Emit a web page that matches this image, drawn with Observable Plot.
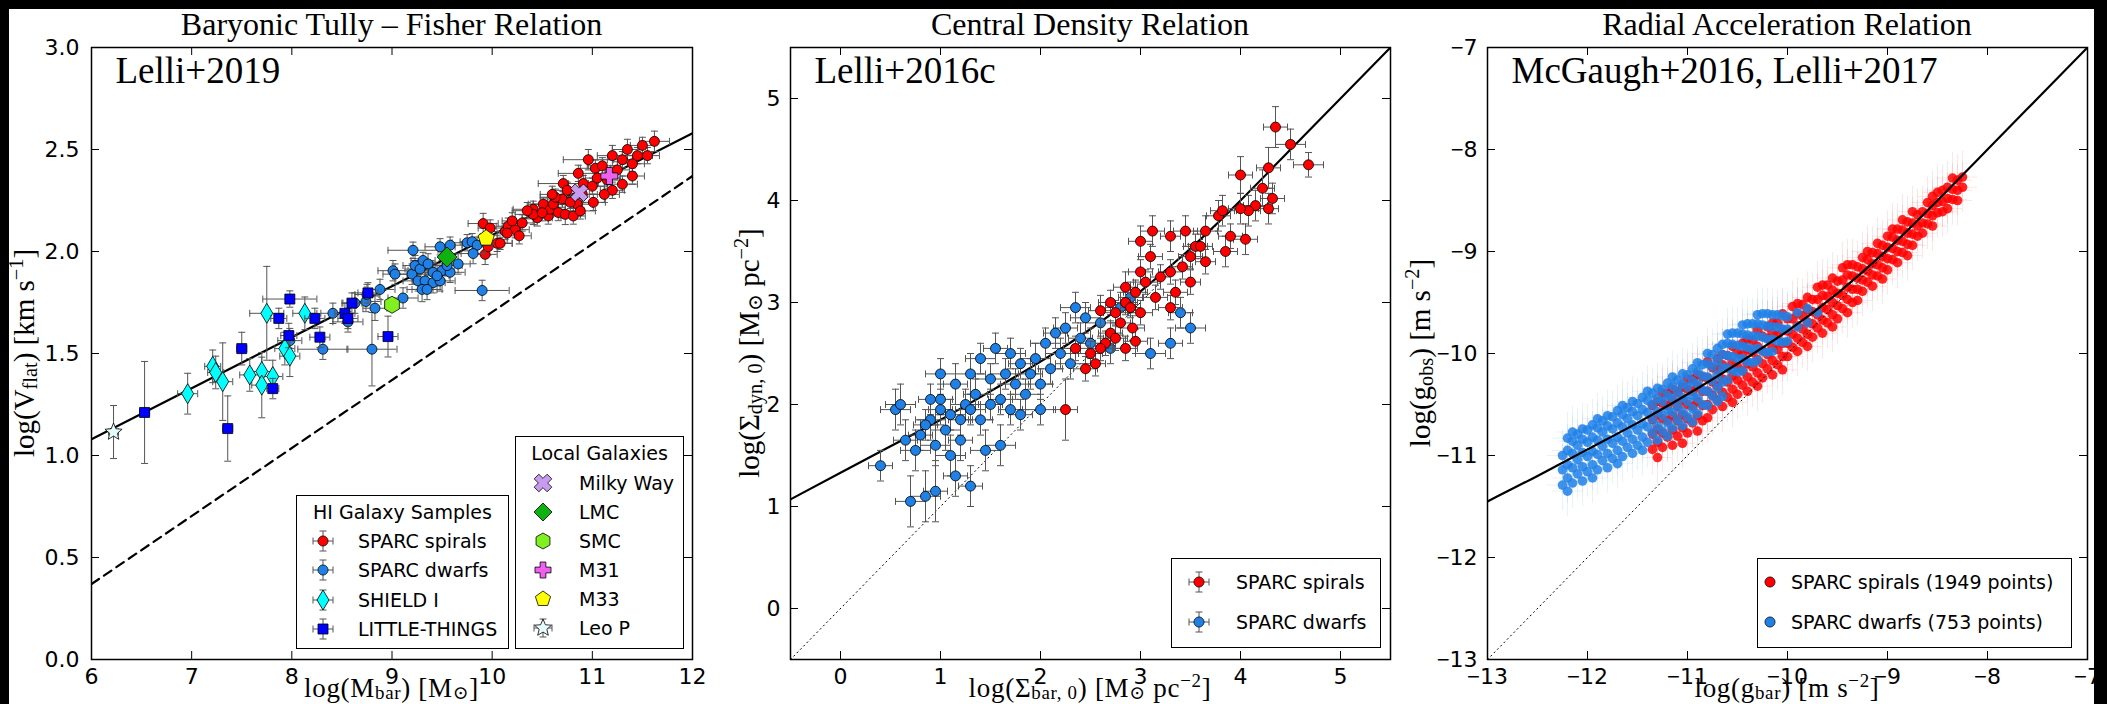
<!DOCTYPE html>
<html><head><meta charset="utf-8">
<script src="https://cdn.jsdelivr.net/npm/d3@7"></script>
<script src="https://cdn.jsdelivr.net/npm/@observablehq/plot@0.6"></script>
<style>
html,body{margin:0;padding:0;background:#000;}
#root{position:relative;width:2107px;height:704px;background:#000;overflow:hidden;}
#paper{position:absolute;left:9px;top:9px;width:2085px;height:695px;background:#fff;}
.t{position:absolute;white-space:nowrap;line-height:1;color:#000;}
.serif{font-family:"Liberation Serif","DejaVu Serif",serif;}
.sans{font-family:"DejaVu Sans",sans-serif;}
.t sub{font-size:0.7em;vertical-align:-0.15em;line-height:0;}
.t sup{font-size:0.7em;vertical-align:0.5em;line-height:0;}
.box{position:absolute;border:1.5px solid #000;background:#fff;box-sizing:border-box;}
</style></head><body><div id="root"><div id="paper"></div></div>
<script>
// ---------------- DATA ----------------
// Panel 1: Baryonic Tully-Fisher relation  [logMbar, logVflat, errX, errY]
const btfrSpirals = [
 [9.91,2.137,0.15,0.05],[9.98,2.115,0.12,0.04],[9.93,1.986,0.12,0.05],[9.96,2.023,0.10,0.04],[10.05,2.04,0.15,0.04],
 [10.08,2.04,0.12,0.03],[10.13,2.098,0.15,0.04],[10.16,2.124,0.12,0.04],[10.23,2.107,0.14,0.04],[10.27,2.077,0.12,0.04],
 [10.15,2.09,0.10,0.05],[10.41,2.207,0.20,0.04],[10.45,2.165,0.15,0.04],[10.41,2.182,0.18,0.05],[10.51,2.232,0.15,0.03],
 [10.56,2.174,0.12,0.04],[10.58,2.207,0.15,0.04],[10.61,2.232,0.20,0.03],[10.66,2.191,0.12,0.04],[10.70,2.257,0.15,0.04],
 [10.71,2.333,0.25,0.04],[10.73,2.182,0.15,0.05],[10.81,2.174,0.12,0.04],[10.85,2.232,0.15,0.04],[10.86,2.383,0.20,0.04],
 [10.91,2.333,0.15,0.04],[10.96,2.45,0.25,0.05],[11.01,2.241,0.12,0.04],[11.03,2.408,0.15,0.04],[10.88,2.199,0.15,0.04],
 [10.78,2.241,0.12,0.03],[10.63,2.266,0.15,0.04],[10.30,2.14,0.12,0.04],[10.35,2.20,0.15,0.04],[10.20,2.15,0.10,0.04],
 [10.50,2.19,0.15,0.04],[10.60,2.28,0.12,0.04],[10.90,2.28,0.15,0.04],[10.75,2.30,0.15,0.04],[11.00,2.32,0.12,0.04],
 [11.10,2.42,0.15,0.04],[11.15,2.35,0.12,0.04],[11.20,2.47,0.15,0.05],[11.25,2.40,0.12,0.04],[11.30,2.45,0.15,0.04],
 [11.35,2.50,0.15,0.05],[11.40,2.43,0.12,0.04],[11.45,2.47,0.15,0.04],[11.50,2.52,0.12,0.04],[11.55,2.47,0.12,0.04],
 [11.30,2.33,0.15,0.04],[11.20,2.30,0.12,0.04],[11.12,2.28,0.15,0.04],[11.05,2.36,0.12,0.04],[11.62,2.54,0.15,0.05],
 [11.40,2.37,0.12,0.04]
];
const btfrDwarfs = [
 [7.98,1.563,0.12,0.06],[8.31,1.521,0.25,0.05],[8.80,1.521,0.25,0.18],[8.41,1.697,0.12,0.05],[8.56,1.655,0.15,0.05],
 [8.63,1.747,0.12,0.05],[8.74,1.755,0.15,0.05],[8.83,1.722,0.12,0.06],[8.88,1.814,0.15,0.05],[8.75,1.789,0.12,0.05],
 [9.11,1.772,0.15,0.05],[9.01,1.906,0.15,0.05],[9.03,1.889,0.12,0.05],[9.21,2.006,0.25,0.04],[9.20,1.889,0.15,0.05],
 [9.23,1.931,0.12,0.05],[9.28,1.914,0.15,0.05],[9.31,1.956,0.12,0.04],[9.36,1.939,0.15,0.05],[9.41,1.898,0.12,0.05],
 [9.26,1.856,0.15,0.05],[9.33,1.856,0.12,0.05],[9.30,1.814,0.15,0.06],[9.41,1.847,0.12,0.05],[9.48,1.856,0.15,0.05],
 [9.50,1.906,0.12,0.05],[9.48,2.023,0.15,0.04],[9.58,2.031,0.12,0.04],[9.58,1.898,0.15,0.05],[9.66,1.939,0.12,0.05],
 [9.75,2.043,0.15,0.04],[9.80,2.048,0.12,0.04],[9.85,2.031,0.15,0.04],[9.81,1.990,0.12,0.05],[9.90,1.809,0.27,0.05],
 [9.35,1.814,0.15,0.05],[9.45,1.881,0.12,0.05],[9.55,1.931,0.15,0.05]
];
const btfrShield = [
 [6.96,1.303,0.10,0.10],[7.21,1.437,0.08,0.08],[7.24,1.407,0.08,0.08],[7.31,1.362,0.10,0.19],[7.58,1.395,0.10,0.08],
 [7.70,1.412,0.10,0.07],[7.81,1.387,0.10,0.08],[7.70,1.345,0.10,0.16],[7.75,1.697,0.17,0.23],[8.13,1.697,0.12,0.08],
 [7.93,1.524,0.10,0.08],[7.98,1.487,0.10,0.10]
];
const btfrLittleThings = [
 [6.53,1.211,0.05,0.25],[7.36,1.132,0.05,0.16],[7.50,1.524,0.05,0.08],[7.98,1.767,0.27,0.04],[7.87,1.672,0.08,0.05],
 [8.23,1.672,0.10,0.05],[7.97,1.588,0.08,0.06],[8.28,1.580,0.10,0.05],[7.81,1.328,0.06,0.05],[8.96,1.583,0.10,0.10],
 [8.76,1.797,0.10,0.05],[8.60,1.747,0.10,0.05],[8.53,1.697,0.10,0.05],[8.56,1.672,0.10,0.05]
];
const localNames = ["Milky Way","LMC","SMC","M31","M33","Leo P"];
const localX     = [10.87, 9.55, 9.00, 11.17, 9.94, 6.22];
const localY     = [2.288, 1.973, 1.739, 2.37, 2.065, 1.115];
const localErrX  = [0, 0, 0, 0, 0, 0.05];
const localErrY  = [0, 0, 0, 0, 0, 0.13];
const btfrModelX = [6, 12], btfrModelY = [1.08, 2.58];     // solid line
const btfrDashX  = [6, 12], btfrDashY  = [0.37, 2.37];     // dashed line

// Panel 2: Central density relation  [logSigmaBar, logSigmaDyn, errX, errY]
const cdrSpirals = [
 [4.35,4.72,0.12,0.20],[4.50,4.55,0.15,0.15],[4.68,4.35,0.15,0.12],[4.28,4.32,0.12,0.20],[4.22,4.12,0.12,0.18],
 [4.15,3.95,0.12,0.15],[4.28,3.92,0.10,0.15],[4.08,3.90,0.12,0.15],[4.32,4.02,0.12,0.15],[3.78,3.85,0.12,0.15],
 [3.65,3.70,0.12,0.15],[3.90,3.65,0.12,0.12],[3.55,3.55,0.12,0.12],[3.65,3.40,0.10,0.12],[3.50,3.45,0.12,0.12],
 [3.42,3.35,0.10,0.12],[3.30,3.30,0.12,0.12],[3.12,3.70,0.12,0.15],[3.30,3.65,0.10,0.15],[3.00,3.60,0.12,0.15],
 [3.10,3.45,0.12,0.12],[3.20,3.25,0.10,0.12],[3.05,3.20,0.12,0.12],[2.95,3.10,0.12,0.12],[2.85,3.00,0.12,0.12],
 [2.90,2.95,0.10,0.10],[3.00,2.90,0.12,0.12],[2.75,2.90,0.12,0.12],[2.80,2.80,0.10,0.12],[2.92,2.75,0.12,0.12],
 [2.70,2.70,0.12,0.12],[2.65,2.60,0.10,0.12],[2.60,2.55,0.12,0.12],[2.50,2.50,0.12,0.12],[2.55,2.40,0.10,0.12],
 [2.75,2.65,0.12,0.12],[2.85,3.15,0.12,0.15],[2.45,2.35,0.12,0.12],[2.35,2.55,0.12,0.12],[2.25,1.95,0.12,0.30],
 [2.60,2.92,0.12,0.15],[3.15,3.05,0.12,0.12],[2.95,2.62,0.12,0.12],[3.50,3.20,0.10,0.12],[3.60,3.55,0.12,0.12],
 [3.35,3.10,0.12,0.12],[4.00,3.92,0.12,0.15],[4.05,3.62,0.12,0.15],[3.85,3.50,0.12,0.15],[2.70,3.00,0.12,0.12],
 [3.00,3.30,0.12,0.12],[2.85,2.55,0.12,0.12],[3.30,2.95,0.12,0.12],[3.45,3.70,0.12,0.15],[4.00,4.25,0.12,0.18],
 [3.82,3.90,0.12,0.15]
];
const cdrDwarfs = [
 [0.40,1.40,0.12,0.15],[0.70,1.05,0.15,0.25],[0.85,1.10,0.15,0.25],[0.95,1.15,0.12,0.30],[0.55,1.95,0.15,0.20],
 [0.65,1.65,0.12,0.20],[0.75,1.55,0.15,0.20],[0.80,1.70,0.12,0.15],[0.90,1.85,0.15,0.20],[0.85,1.80,0.12,0.15],
 [0.95,1.60,0.15,0.20],[1.00,1.95,0.12,0.15],[1.05,1.75,0.15,0.20],[1.00,2.05,0.12,0.15],[1.10,1.90,0.15,0.15],
 [1.15,2.20,0.12,0.20],[1.10,1.50,0.15,0.20],[1.20,1.85,0.12,0.15],[1.25,2.00,0.15,0.15],[1.20,1.65,0.12,0.20],
 [1.30,1.95,0.15,0.15],[1.35,2.10,0.12,0.15],[1.30,2.30,0.15,0.20],[1.40,1.85,0.12,0.15],[1.45,1.55,0.15,0.20],
 [1.50,2.00,0.12,0.15],[1.50,2.25,0.15,0.15],[1.60,2.05,0.12,0.15],[1.65,2.30,0.15,0.15],[1.70,1.95,0.12,0.15],
 [1.75,2.20,0.15,0.15],[1.80,2.40,0.12,0.15],[1.85,2.10,0.15,0.15],[1.90,2.30,0.12,0.15],[1.95,2.45,0.15,0.15],
 [2.00,2.20,0.12,0.15],[2.05,2.60,0.15,0.15],[2.10,2.35,0.12,0.15],[2.20,2.50,0.15,0.15],[2.25,2.75,0.12,0.15],
 [2.30,2.40,0.15,0.15],[2.40,2.65,0.12,0.15],[2.45,2.85,0.15,0.15],[2.50,2.60,0.12,0.15],[2.60,2.80,0.15,0.15],
 [2.70,2.55,0.12,0.15],[2.80,2.95,0.15,0.15],[2.90,3.05,0.12,0.15],[3.10,2.50,0.15,0.15],[3.30,2.60,0.12,0.15],
 [3.50,2.75,0.15,0.15],[3.40,2.90,0.12,0.15],[1.40,2.45,0.15,0.15],[1.55,2.55,0.12,0.15],[1.00,2.30,0.15,0.15],
 [0.90,2.05,0.12,0.15],[1.60,1.60,0.15,0.20],[1.80,1.90,0.12,0.15],[2.00,1.95,0.15,0.15],[1.15,1.30,0.12,0.20],
 [0.60,2.00,0.15,0.20],[1.30,1.20,0.12,0.20],[1.70,2.50,0.15,0.15],[2.15,2.70,0.12,0.15],[2.35,2.95,0.15,0.15]
];
const cdrModelX = [-0.5, 0, 0.5, 1, 1.5, 2, 2.5, 3, 3.5, 4, 4.5, 5, 5.5];
const cdrModelY = [1.07, 1.33, 1.59, 1.85, 2.13, 2.42, 2.74, 3.11, 3.53, 4.00, 4.50, 5.00, 5.50];
const cdrUnityX = [-0.5, 5.5], cdrUnityY = [-0.5, 5.5];

// Panel 3: Radial acceleration relation. Each row: [log gbar, log gobs values read in that column...]
const rarSpiralCols = [
 [-11.35,-10.94,-10.79,-10.65,-10.51],[-11.30,-11.02,-10.87,-10.74,-10.6,-10.47],[-11.25,-10.92,-10.78,-10.64,-10.49,-10.39],
 [-11.20,-10.82,-10.66,-10.51,-10.39],[-11.15,-10.9,-10.75,-10.61,-10.46,-10.35],[-11.10,-10.81,-10.66,-10.52,-10.38],
 [-11.05,-10.88,-10.73,-10.6,-10.46,-10.33],[-11.00,-10.78,-10.64,-10.5,-10.35,-10.25],[-10.95,-10.68,-10.52,-10.37,-10.25],
 [-10.90,-10.76,-10.61,-10.47,-10.32,-10.21],[-10.85,-10.66,-10.51,-10.37,-10.23],
 [-10.80,-10.63,-10.5,-10.37,-10.24,-10.08],[-10.75,-10.55,-10.41,-10.28,-10.14],[-10.70,-10.46,-10.32,-10.16,-10.05],
 [-10.65,-10.52,-10.38,-10.25,-10.11,-10.01],[-10.60,-10.43,-10.28,-10.14,-10.02],[-10.55,-10.48,-10.35,-10.22,-10.09,-9.93],
 [-10.50,-10.4,-10.26,-10.13,-9.99],[-10.45,-10.31,-10.17,-10.01,-9.9],[-10.40,-10.37,-10.23,-10.1,-9.96,-9.86],
 [-10.35,-10.28,-10.13,-9.99,-9.87],[-10.30,-10.32,-10.19,-10.06,-9.93,-9.77],[-10.25,-10.24,-10.1,-9.97,-9.83],
 [-10.20,-10.15,-10.01,-9.85,-9.74],[-10.15,-10.21,-10.07,-9.94,-9.8,-9.7],[-10.10,-10.11,-9.96,-9.82,-9.7],
 [-10.05,-10.16,-10.03,-9.9,-9.77,-9.61],
 [-10.00,-10.03,-9.9,-9.78,-9.66],[-9.95,-9.94,-9.81,-9.66,-9.54],[-9.90,-9.98,-9.85,-9.73,-9.61,-9.51],
 [-9.85,-9.89,-9.76,-9.63,-9.52],[-9.80,-9.93,-9.81,-9.69,-9.57,-9.45],[-9.75,-9.84,-9.71,-9.59,-9.47],
 [-9.70,-9.75,-9.62,-9.47,-9.35],[-9.65,-9.8,-9.67,-9.55,-9.43,-9.33],[-9.60,-9.7,-9.57,-9.44,-9.33],
 [-9.55,-9.74,-9.62,-9.5,-9.38,-9.26],[-9.50,-9.66,-9.53,-9.41,-9.29],[-9.45,-9.56,-9.43,-9.28,-9.16],
 [-9.40,-9.6,-9.47,-9.35,-9.23,-9.13],[-9.35,-9.5,-9.37,-9.24,-9.13],
 [-9.30,-9.48,-9.37,-9.26,-9.15],[-9.25,-9.39,-9.28,-9.17,-9.06],[-9.20,-9.3,-9.19,-9.08,-9.0],
 [-9.15,-9.34,-9.23,-9.12,-9.01],[-9.10,-9.24,-9.13,-9.02,-8.92],[-9.05,-9.27,-9.16,-9.05,-8.94],
 [-9.00,-9.18,-9.07,-8.96,-8.85],[-8.95,-9.08,-8.97,-8.86,-8.78],[-8.90,-9.11,-9.0,-8.89,-8.78],
 [-8.85,-9.01,-8.9,-8.79,-8.69],[-8.80,-9.04,-8.93,-8.82,-8.71],[-8.75,-8.94,-8.83,-8.72,-8.61],
 [-8.70,-8.85,-8.75,-8.64],[-8.65,-8.82,-8.72,-8.61],[-8.60,-8.73,-8.63,-8.52],[-8.55,-8.75,-8.65,-8.55,-8.46],
 [-8.50,-8.62,-8.52,-8.42],[-8.45,-8.61,-8.51,-8.4],[-8.40,-8.58,-8.48,-8.37],[-8.35,-8.49,-8.39,-8.28],
 [-8.30,-8.5,-8.4,-8.3],[-8.25,-8.37,-8.27]
];
const rarDwarfCols = [
 [-12.25,-11.29,-11.14,-11.0],[-12.20,-11.35,-11.22,-11.09,-10.95,-10.83],[-12.15,-11.27,-11.12,-10.98,-10.86,-10.77],
 [-12.10,-11.18,-11.04,-10.9,-10.79],[-12.05,-11.25,-11.11,-10.97,-10.84,-10.74],[-12.00,-11.16,-11.01,-10.87,-10.75],
 [-11.95,-11.22,-11.09,-10.96,-10.82,-10.7],[-11.90,-11.14,-10.99,-10.85,-10.73,-10.64],[-11.85,-11.05,-10.91,-10.77,-10.66],
 [-11.80,-11.12,-10.98,-10.84,-10.71,-10.61],[-11.75,-11.03,-10.88,-10.74,-10.62],[-11.70,-11.08,-10.95,-10.82,-10.68,-10.56],
 [-11.65,-11.01,-10.86,-10.72,-10.6,-10.51],[-11.60,-10.92,-10.78,-10.64,-10.53],[-11.55,-10.98,-10.84,-10.7,-10.57,-10.47],
 [-11.50,-10.9,-10.75,-10.61,-10.49],[-11.45,-10.95,-10.82,-10.69,-10.55,-10.43],[-11.40,-10.87,-10.72,-10.58,-10.46,-10.37],
 [-11.35,-10.78,-10.64,-10.5,-10.39],[-11.30,-10.85,-10.71,-10.57,-10.44,-10.34],[-11.25,-10.76,-10.61,-10.47,-10.35],
 [-11.20,-10.81,-10.68,-10.55,-10.41,-10.29],[-11.15,-10.73,-10.58,-10.44,-10.32,-10.23],[-11.10,-10.65,-10.51,-10.37,-10.26],
 [-11.05,-10.71,-10.57,-10.43,-10.3,-10.2],[-11.00,-10.62,-10.47,-10.33,-10.21],[-10.95,-10.67,-10.54,-10.41,-10.27,-10.15],
 [-10.90,-10.59,-10.44,-10.3,-10.18,-10.09],[-10.85,-10.5,-10.36,-10.22,-10.11],
 [-10.80,-10.51,-10.37,-10.23,-10.1,-10.0],[-10.75,-10.42,-10.27,-10.13,-10.01],[-10.70,-10.47,-10.34,-10.21,-10.07,-9.95],
 [-10.65,-10.42,-10.28,-10.14,-10.01,-9.91],
 [-10.60,-10.26,-10.14,-10.02,-9.9,-9.81],[-10.55,-10.17,-10.03,-9.91,-9.8],[-10.50,-10.18,-10.05,-9.92,-9.8],
 [-10.45,-10.17,-10.05,-9.93,-9.81,-9.72],[-10.40,-10.08,-9.94,-9.82,-9.71],[-10.35,-10.09,-9.96,-9.83,-9.71],
 [-10.30,-10.07,-9.95,-9.83,-9.71,-9.62],[-10.25,-9.98,-9.84,-9.72,-9.61],[-10.20,-9.99,-9.86,-9.73,-9.61],
 [-10.15,-9.98,-9.86,-9.74,-9.62],[-10.10,-9.88,-9.74,-9.62],[-10.05,-9.89,-9.76,-9.63],[-10.00,-9.88,-9.76,-9.64],
 [-9.90,-9.74,-9.6],[-9.80,-9.7,-9.56],[-9.70,-9.6]
];
const rarTypicalErr = {x: 0.15, y: 0.25};
const rarModelX = [-13, -12.5, -12, -11.5, -11, -10.5, -10, -9.5, -9, -8.5, -8, -7.5, -7];
const rarModelY = [-11.45, -11.20, -10.94, -10.68, -10.40, -10.10, -9.78, -9.41, -8.98, -8.50, -8.00, -7.50, -7.00];
const rarUnityX = [-13, -7], rarUnityY = [-13, -7];

// tick values
const p1XTicks = [6,7,8,9,10,11,12], p1YTicks = [0,0.5,1,1.5,2,2.5,3];
const p2XTicks = [0,1,2,3,4,5], p2YTicks = [0,1,2,3,4,5];
const p3XTicks = [-13,-12,-11,-10,-9,-8,-7], p3YTicks = [-13,-12,-11,-10,-9,-8,-7];

// ---------------- STYLE / HELPERS ----------------
const C = {red:"#ff0000", blue:"#1f80e6", cyan:"#00ffff", lt:"#0000ff", mw:"#c89bf0", lmc:"#10b010",
           smc:"#80f020", m31:"#f060f0", m33:"#ffff00", leo:"#e6fcfc", err:"#555555"};
const H = 704, FT = 47, FB = 659;
const root = document.getElementById("root");
const NS = "http://www.w3.org/2000/svg";

function poly(pts){return {draw(ctx,size){const r=Math.sqrt(size/Math.PI);pts.forEach(([x,y],i)=>i?ctx.lineTo(x*r,y*r):ctx.moveTo(x*r,y*r));ctx.closePath();}};}
const aP = 0.36;
const PLUS = [[-aP,-1],[aP,-1],[aP,-aP],[1,-aP],[1,aP],[aP,aP],[aP,1],[-aP,1],[-aP,aP],[-1,aP],[-1,-aP],[-aP,-aP]];
const SHAPES = {
  square: [[-1,-1],[1,-1],[1,1],[-1,1]],
  diamond: [[0,-1],[1,0],[0,1],[-1,0]],
  thin: [[0,-1],[0.6,0],[0,1],[-0.6,0]],
  plus: PLUS,
  x: PLUS.map(([x,y])=>[(x-y)*0.72,(x+y)*0.72]),
  hex: d3.range(6).map(k=>[Math.cos(-Math.PI/2+k*Math.PI/3),Math.sin(-Math.PI/2+k*Math.PI/3)]),
  pent: d3.range(5).map(k=>[Math.cos(-Math.PI/2+k*2*Math.PI/5),Math.sin(-Math.PI/2+k*2*Math.PI/5)]),
  star: d3.range(10).map(k=>{const rr=k%2?0.45:1,t=-Math.PI/2+k*Math.PI/5;return [rr*Math.cos(t),rr*Math.sin(t)];}),
  circle: d3.range(40).map(k=>[Math.cos(k*Math.PI/20),Math.sin(k*Math.PI/20)])
};
const SYM = Object.fromEntries(Object.entries(SHAPES).map(([k,v])=>[k,poly(v)]));
const capV = {draw(ctx,size){const r=Math.sqrt(size/Math.PI);ctx.moveTo(0,-r);ctx.lineTo(0,r);}};
const capH = {draw(ctx,size){const r=Math.sqrt(size/Math.PI);ctx.moveTo(-r,0);ctx.lineTo(r,0);}};

function errorBars(rows, color, cap, width, opacity){
  const o = {stroke: color, strokeWidth: width, strokeOpacity: opacity};
  const hx = rows.filter(d=>d[2]>0), vy = rows.filter(d=>d[3]>0);
  const m = [
    Plot.ruleY(hx, {y:d=>d[1], x1:d=>d[0]-d[2], x2:d=>d[0]+d[2], ...o}),
    Plot.ruleX(vy, {x:d=>d[0], y1:d=>d[1]-d[3], y2:d=>d[1]+d[3], ...o})
  ];
  if (cap) m.push(
    Plot.dot(hx, {x:d=>d[0]-d[2], y:d=>d[1], symbol:capV, r:cap, fill:"none", ...o}),
    Plot.dot(hx, {x:d=>d[0]+d[2], y:d=>d[1], symbol:capV, r:cap, fill:"none", ...o}),
    Plot.dot(vy, {x:d=>d[0], y:d=>d[1]-d[3], symbol:capH, r:cap, fill:"none", ...o}),
    Plot.dot(vy, {x:d=>d[0], y:d=>d[1]+d[3], symbol:capH, r:cap, fill:"none", ...o})
  );
  return m;
}
function markers(rows, symbol, r, fill){
  return Plot.dot(rows, {x:d=>d[0], y:d=>d[1], symbol, r, fill, stroke:"#000", strokeWidth:0.8});
}

function panel({L, Wd, ml, mr, xd, yd, xt, yt, yfmt, ypad, note, marks}){
  const fh = FB-FT, fw = Wd-ml-mr;
  const svg = Plot.plot({
    width: Wd, height: H, marginLeft: ml, marginRight: mr, marginTop: FT, marginBottom: H-FB,
    x: {domain: xd}, y: {domain: yd},
    style: {background:"transparent", overflow:"visible", fontFamily:"DejaVu Sans, sans-serif", fontSize:"22px", color:"#000"},
    marks: [
      ...marks,
      Plot.text([note], {frameAnchor:"top-left", dx:24, dy:9, text:d=>d, textAnchor:"start", lineAnchor:"top",
        fontSize:37, fontFamily:"Liberation Serif, serif", fill:"#000"}),
      Plot.ruleX(xt, {insetTop: fh-8, stroke:"#000"}),
      Plot.ruleX(xt, {insetBottom: fh-8, stroke:"#000"}),
      Plot.ruleY(yt, {insetRight: fw-8, stroke:"#000"}),
      Plot.ruleY(yt, {insetLeft: fw-8, stroke:"#000"}),
      Plot.axisX(xt, {label:null, tickSize:0, tickPadding:9, fontSize:22, fill:"#000"}),
      Plot.axisY(yt, {label:null, tickSize:0, tickPadding:ypad, fontSize:22, fill:"#000", tickFormat: yfmt}),
      Plot.frame({stroke:"#000", strokeWidth:1.5})
    ]
  });
  // narrower minus sign like the reference's tick labels
  svg.querySelectorAll('g[aria-label$="tick label"] text').forEach(t=>{
    const s = t.textContent;
    if (s.startsWith("\u2212")){
      t.textContent = "";
      const a = document.createElementNS(NS,"tspan"); a.setAttribute("font-family","Liberation Sans, sans-serif"); a.textContent = "\u2212";
      const b = document.createElementNS(NS,"tspan"); b.textContent = s.slice(1);
      t.append(a,b);
    }
  });
  svg.style.position = "absolute"; svg.style.left = L+"px"; svg.style.top = "0px";
  root.appendChild(svg);
}

const lineXY = (xs, ys) => xs.map((x,i)=>({x, y: ys[i]}));

// ---------------- PANEL 1 ----------------
const leoRows = [[localX[5], localY[5], localErrX[5], localErrY[5]]];
const locRow = i => [[localX[i], localY[i]]];
panel({L:0, Wd:700, ml:91, mr:8, xd:[6,12], yd:[0,3], xt:p1XTicks, yt:p1YTicks, yfmt:d3.format(".1f"), ypad:12, note:"Lelli+2019",
  marks: [
    Plot.line(lineXY(btfrModelX, btfrModelY), {x:"x", y:"y", stroke:"#000", strokeWidth:2.2, clip:true}),
    Plot.line(lineXY(btfrDashX, btfrDashY), {x:"x", y:"y", stroke:"#000", strokeWidth:2.2, strokeDasharray:"9,6", clip:true}),
    ...errorBars(btfrSpirals, C.err, 3.5, 1, 1), markers(btfrSpirals, "circle", 5, C.red),
    ...errorBars(btfrDwarfs, C.err, 3.5, 1, 1), markers(btfrDwarfs, "circle", 5, C.blue),
    ...errorBars(btfrShield, C.err, 3.5, 1, 1), markers(btfrShield, SYM.thin, 10, C.cyan),
    ...errorBars(btfrLittleThings, C.err, 3.5, 1, 1), markers(btfrLittleThings, SYM.square, 5, C.lt),
    markers(locRow(0), SYM.x, 9, C.mw),
    markers(locRow(1), SYM.diamond, 10, C.lmc),
    markers(locRow(2), SYM.hex, 8.5, C.smc),
    markers(locRow(3), SYM.plus, 8.5, C.m31),
    markers(locRow(4), SYM.pent, 8.5, C.m33),
    ...errorBars(leoRows, C.err, 3.5, 1, 1), markers(leoRows, SYM.star, 9, C.leo)
  ]});

// ---------------- PANEL 2 ----------------
panel({L:700, Wd:700, ml:90, mr:10, xd:[-0.5,5.5], yd:[-0.5,5.5], xt:p2XTicks, yt:p2YTicks, yfmt:d3.format("d"), ypad:10, note:"Lelli+2016c",
  marks: [
    Plot.line(lineXY(cdrUnityX, cdrUnityY), {x:"x", y:"y", stroke:"#000", strokeWidth:1, strokeDasharray:"1.2,3.5", clip:true}),
    Plot.line(lineXY(cdrModelX, cdrModelY), {x:"x", y:"y", stroke:"#000", strokeWidth:2.2, curve:"natural", clip:true}),
    ...errorBars(cdrDwarfs, C.err, 3.5, 1, 1), markers(cdrDwarfs, "circle", 5, C.blue),
    ...errorBars(cdrSpirals, C.err, 3.5, 1, 1), markers(cdrSpirals, "circle", 5, C.red)
  ]});

// ---------------- PANEL 3 ----------------
const colsToPoints = cols => cols.flatMap(([x, ...ys]) => ys.map(y => [x, y]));
const rarSpirals = colsToPoints(rarSpiralCols), rarDwarfs = colsToPoints(rarDwarfCols);
const withErr = rows => rows.map(([x,y])=>[x, y, rarTypicalErr.x, rarTypicalErr.y]);
panel({L:1400, Wd:707, ml:87, mr:20, xd:[-13,-7], yd:[-13,-7], xt:p3XTicks, yt:p3YTicks, yfmt:d3.format("d"), ypad:10, note:"McGaugh+2016, Lelli+2017",
  marks: [
    ...errorBars(withErr(rarSpirals), C.red, 0, 1, 0.1),
    ...errorBars(withErr(rarDwarfs), C.blue, 0, 1, 0.1),
    Plot.dot(rarSpirals, {x:d=>d[0], y:d=>d[1], r:4.8, fill:C.red, fillOpacity:0.85}),
    Plot.dot(rarDwarfs, {x:d=>d[0], y:d=>d[1], r:4.8, fill:C.blue, fillOpacity:0.85}),
    Plot.line(lineXY(rarUnityX, rarUnityY), {x:"x", y:"y", stroke:"#000", strokeWidth:1, strokeDasharray:"1.2,3.5", clip:true}),
    Plot.line(lineXY(rarModelX, rarModelY), {x:"x", y:"y", stroke:"#000", strokeWidth:2.2, curve:"natural", clip:true})
  ]});

// ---------------- TEXT ----------------
function txt(html, cls, x, y, size, extra=""){
  const d = document.createElement("div");
  d.className = "t "+cls; d.innerHTML = html;
  d.style.cssText += `left:${x}px;top:${y}px;font-size:${size}px;transform:translate(-50%,-50%) ${extra};`;
  root.appendChild(d); return d;
}
txt("Baryonic Tully – Fisher Relation", "serif", 391.5, 24, 32);
txt("Central Density Relation", "serif", 1090, 24, 32);
txt("Radial Acceleration Relation", "serif", 1787, 24, 32);
const xl = [
  txt("log(M<sub>bar</sub>) [M<sub>⊙</sub>]", "serif", 391.5, 687.5, 27),
  txt("log(Σ<sub>bar, 0</sub>) [M<sub>⊙</sub> pc<sup>−2</sup>]", "serif", 1090, 687.5, 27),
  txt("log(g<sub>bar</sub>) [m s<sup>−2</sup>]", "serif", 1787, 687.5, 27)
];
xl.forEach(d=>{d.style.letterSpacing="0.7px";});
txt("log(V<sub>flat</sub>) [km s<sup>−1</sup>]", "serif", 24, 353, 29, "rotate(-90deg)");
txt("log(Σ<sub>dyn, 0</sub>) [M<sub>⊙</sub> pc<sup>−2</sup>]", "serif", 749, 353, 29, "rotate(-90deg)");
txt("log(g<sub>obs</sub>) [m s<sup>−2</sup>]", "serif", 1420, 353, 29, "rotate(-90deg)");

// ---------------- LEGENDS ----------------
function pathOf(shape, r){return SHAPES[shape].map(([x,y],i)=>(i?"L":"M")+(x*r).toFixed(2)+","+(y*r).toFixed(2)).join("")+"Z";}
function legendMarker(cx, cy, shape, r, fill, err){
  const s = 32;
  let inner = "";
  if (err){
    const e = err;
    inner += `<g stroke="${C.err}" stroke-width="1" fill="none">
      <line x1="${-e}" y1="0" x2="${e}" y2="0"/><line x1="0" y1="${-e}" x2="0" y2="${e}"/>
      <line x1="${-e}" y1="-3.5" x2="${-e}" y2="3.5"/><line x1="${e}" y1="-3.5" x2="${e}" y2="3.5"/>
      <line x1="-3.5" y1="${-e}" x2="3.5" y2="${-e}"/><line x1="-3.5" y1="${e}" x2="3.5" y2="${e}"/></g>`;
  }
  inner += `<path d="${pathOf(shape, r)}" fill="${fill}" stroke="#000" stroke-width="0.8"/>`;
  const d = document.createElement("div");
  d.style.cssText = `position:absolute;left:${cx-s/2}px;top:${cy-s/2}px;width:${s}px;height:${s}px;`;
  d.innerHTML = `<svg width="${s}" height="${s}" viewBox="${-s/2} ${-s/2} ${s} ${s}" style="overflow:visible">${inner}</svg>`;
  root.appendChild(d);
}
function legendText(label, x, y){
  const d = document.createElement("div");
  d.className = "t sans"; d.textContent = label;
  d.style.cssText += `left:${x}px;top:${y}px;font-size:19px;transform:translateY(-50%);`;
  root.appendChild(d);
}
function box(l,t,r,b){const d=document.createElement("div");d.className="box";
  d.style.cssText+=`left:${l}px;top:${t}px;width:${r-l}px;height:${b-t}px;`;root.appendChild(d);}

// Panel 1 legends
const hiLabels = ["SPARC spirals","SPARC dwarfs","SHIELD I","LITTLE-THINGS"];
const hiShapes = [["circle",5,C.red],["circle",5,C.blue],["thin",10,C.cyan],["square",5,C.lt]];
box(296,495,509,649);
txt("HI Galaxy Samples","sans",402.5,512,19);
hiLabels.forEach((lab,i)=>{const y=541+i*29.3; legendMarker(323,y,hiShapes[i][0],hiShapes[i][1],hiShapes[i][2],10); legendText(lab,358,y);});

const locShapes = [["x",9,C.mw],["diamond",9,C.lmc],["hex",8,C.smc],["plus",8,C.m31],["pent",8,C.m33],["star",9,C.leo]];
box(515,436,684,649);
txt("Local Galaxies","sans",599.5,453,19);
localNames.forEach((lab,i)=>{const y=482.5+i*29.1; legendMarker(543,y,locShapes[i][0],locShapes[i][1],locShapes[i][2], i===5?9:0); legendText(lab,579,y);});

// Panel 2 legend
box(1171,558,1381,648);
[["SPARC spirals",C.red],["SPARC dwarfs",C.blue]].forEach(([lab,c],i)=>{const y=582+i*40; legendMarker(1199,y,"circle",5,c,10); legendText(lab,1236,y);});

// Panel 3 legend
box(1757,558,2072,648);
[["SPARC spirals (1949 points)",C.red],["SPARC dwarfs (753 points)",C.blue]].forEach(([lab,c],i)=>{const y=582+i*40; legendMarker(1770,y,"circle",5,c,0); legendText(lab,1791,y);});
</script></body></html>
